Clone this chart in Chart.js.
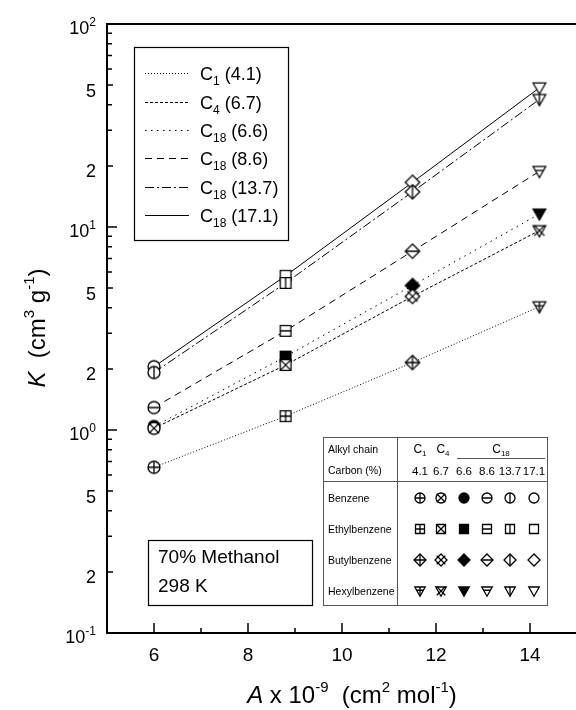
<!DOCTYPE html>
<html>
<head>
<meta charset="utf-8">
<script src="https://cdn.jsdelivr.net/npm/chart.js@4.4.1/dist/chart.umd.min.js"></script>
<style>
  html, body { margin: 0; padding: 0; background: #fff; overflow: hidden; }
  canvas { display: block; }
</style>
</head>
<body>
<canvas id="chart" width="600" height="710" style="width:600px;height:710px"></canvas>
<script>
// Molecular contact area of each solute (x 10^-9 cm^2/mol)
const A_VALUES = [6.0, 8.8, 11.5, 14.2];
const SOLUTES = ['Benzene', 'Ethylbenzene', 'Butylbenzene', 'Hexylbenzene'];

// Stationary phases: alkyl chain length and carbon loading (%)
const CHAINS = ['1', '4', '18', '18', '18', '18'];
const CARBON = ['4.1', '6.7', '6.6', '8.6', '13.7', '17.1'];

// Retention constant K (cm^3 g^-1) for benzene, ethyl-, butyl-, hexylbenzene
const K_C1_41   = [0.655, 1.17, 2.15, 4.05];
const K_C4_67   = [1.02, 2.09, 4.55, 9.6];
const K_C18_66  = [1.04, 2.30, 5.15, 11.6];
const K_C18_86  = [1.29, 3.08, 7.6, 18.8];
const K_C18_137 = [1.92, 5.3, 14.9, 42.5];
const K_C18_171 = [2.05, 5.75, 16.6, 48.5];
const K_SERIES = [K_C1_41, K_C4_67, K_C18_66, K_C18_86, K_C18_137, K_C18_171];

// Axis tick labels
const X_TICK_LABELS = [6, 8, 10, 12, 14];
const X_MINOR_TICKS = [7, 9, 11, 13];
const Y_DECADES = [0.1, 1, 10, 100];
const Y_DECADE_EXP = ['-1', '0', '1', '2'];
const Y_MID_LABELS = [2, 5];

// Drawing styles
const FONT = "'Liberation Sans', Arial, Helvetica, sans-serif";
const DASHES = [[1, 2], [3, 2], [1.5, 4.5], [7, 5], [9, 3, 2, 3], []];
const DECOS = ['plus', 'cross', 'fill', 'hline', 'vline', 'open'];
const SHAPES = ['circle', 'square', 'diamond', 'triangle'];

function shapePath(ctx, shape, cx, cy, r) {
  ctx.beginPath();
  if (shape === 'circle') {
    ctx.arc(cx, cy, r, 0, Math.PI * 2);
  } else if (shape === 'square') {
    const s = r * 0.9;
    ctx.rect(cx - s, cy - s, 2 * s, 2 * s);
  } else if (shape === 'diamond') {
    const d = r * 1.2;
    ctx.moveTo(cx, cy - d); ctx.lineTo(cx + d, cy); ctx.lineTo(cx, cy + d); ctx.lineTo(cx - d, cy);
    ctx.closePath();
  } else {
    ctx.moveTo(cx - r * 1.05, cy - r * 0.8);
    ctx.lineTo(cx + r * 1.05, cy - r * 0.8);
    ctx.lineTo(cx, cy + r * 1.05);
    ctx.closePath();
  }
}

function drawSymbol(ctx, shape, deco, cx, cy, r) {
  ctx.save();
  ctx.setLineDash([]);
  ctx.lineWidth = 1.3;
  ctx.strokeStyle = '#000';
  shapePath(ctx, shape, cx, cy, r);
  ctx.fillStyle = deco === 'fill' ? '#000' : '#fff';
  ctx.fill();
  ctx.stroke();
  const e = r * 1.3;
  if (deco === 'plus' || deco === 'hline' || deco === 'vline') {
    ctx.save();
    shapePath(ctx, shape, cx, cy, r);
    ctx.clip();
    ctx.beginPath();
    const my = shape === 'triangle' ? cy - r * 0.15 : cy;
    if (deco !== 'vline') { ctx.moveTo(cx - e, my); ctx.lineTo(cx + e, my); }
    if (deco !== 'hline') { ctx.moveTo(cx, cy - e); ctx.lineTo(cx, cy + e); }
    ctx.stroke();
    ctx.restore();
  } else if (deco === 'cross') {
    const c = r * 0.85;
    ctx.beginPath();
    ctx.moveTo(cx - c, cy - c); ctx.lineTo(cx + c, cy + c);
    ctx.moveTo(cx + c, cy - c); ctx.lineTo(cx - c, cy + c);
    ctx.stroke();
  }
  ctx.restore();
}

function symbolCanvas(shape, deco, r) {
  const c = document.createElement('canvas');
  c.width = 22; c.height = 22;
  drawSymbol(c.getContext('2d'), shape, deco, 11, 11, r);
  return c;
}

function richWidth(ctx, parts) {
  let w = 0;
  for (const p of parts) { ctx.font = p.font; w += ctx.measureText(p.t).width; }
  return w;
}
function drawRich(ctx, parts, x, y, align) {
  const w = richWidth(ctx, parts);
  let cx = align === 'right' ? x - w : (align === 'center' ? x - w / 2 : x);
  ctx.textAlign = 'left';
  ctx.textBaseline = 'alphabetic';
  for (const p of parts) {
    ctx.font = p.font;
    ctx.fillText(p.t, cx, y + (p.dy || 0));
    cx += ctx.measureText(p.t).width;
  }
}
const f = (size, style) => (style ? style + ' ' : '') + size + 'px ' + FONT;

const datasets = K_SERIES.map((k, i) => ({
  label: 'C' + CHAINS[i] + ' (' + CARBON[i] + ')',
  data: A_VALUES.map((a, j) => ({ x: a, y: k[j] })),
  showLine: true,
  borderColor: '#000',
  borderWidth: 1,
  borderDash: DASHES[i],
  pointStyle: SHAPES.map(s => symbolCanvas(s, DECOS[i], 6)),
  pointRadius: 7,
  pointHoverRadius: 7,
  tension: 0,
  fill: false
}));

const decorPlugin = {
  id: 'decor',
  afterDraw(chart) {
    const ctx = chart.ctx;
    const xs = chart.scales.x, ys = chart.scales.y;
    const L = chart.chartArea.left;
    const T = chart.chartArea.top, B = chart.chartArea.bottom;
    ctx.save();
    ctx.strokeStyle = '#000';
    ctx.fillStyle = '#000';
    ctx.setLineDash([]);

    // axis frame: left, bottom and top lines
    ctx.lineWidth = 2;
    ctx.beginPath();
    ctx.moveTo(L, T); ctx.lineTo(L, B);
    ctx.moveTo(L - 1, B); ctx.lineTo(chart.width, B);
    ctx.moveTo(L - 1, T); ctx.lineTo(chart.width, T);
    ctx.stroke();

    // inward tick marks
    ctx.lineWidth = 1.5;
    ctx.beginPath();
    for (const v of X_TICK_LABELS) { const px = xs.getPixelForValue(v); ctx.moveTo(px, B); ctx.lineTo(px, B - 10); }
    for (const v of X_MINOR_TICKS) { const px = xs.getPixelForValue(v); ctx.moveTo(px, B); ctx.lineTo(px, B - 5); }
    for (let d = 0; d < Y_DECADES.length; d++) {
      const base = Y_DECADES[d];
      const py = ys.getPixelForValue(base);
      ctx.moveTo(L, py); ctx.lineTo(L + 10, py);
      if (d < Y_DECADES.length - 1) {
        for (let m = 2; m <= 9; m++) {
          const pm = ys.getPixelForValue(base * m);
          ctx.moveTo(L, pm); ctx.lineTo(L + (m === 2 || m === 5 ? 6 : 5), pm);
        }
      }
    }
    ctx.stroke();

    // tick labels
    for (const v of X_TICK_LABELS) {
      ctx.font = f(19); ctx.textAlign = 'center'; ctx.textBaseline = 'alphabetic';
      ctx.fillText(String(v), xs.getPixelForValue(v), 661);
    }
    for (let d = 0; d < Y_DECADES.length; d++) {
      const py = ys.getPixelForValue(Y_DECADES[d]);
      drawRich(ctx, [{ t: '10', font: f(18) }, { t: Y_DECADE_EXP[d], font: f(12), dy: -8 }], 96, py + 10, 'right');
      if (d < Y_DECADES.length - 1) {
        for (const m of Y_MID_LABELS) {
          const pm = ys.getPixelForValue(Y_DECADES[d] * m);
          drawRich(ctx, [{ t: String(m), font: f(18) }], 96, pm + 11.5, 'right');
        }
      }
    }

    // axis titles
    drawRich(ctx, [
      { t: 'A', font: f(24, 'italic') }, { t: ' x 10', font: f(24) }, { t: '-9', font: f(15), dy: -11 },
      { t: '  (cm', font: f(24) }, { t: '2', font: f(15), dy: -11 }, { t: ' mol', font: f(24) },
      { t: '-1', font: f(15), dy: -11 }, { t: ')', font: f(24) }
    ], 352, 703, 'center');
    ctx.save();
    ctx.translate(45, 328);
    ctx.rotate(-Math.PI / 2);
    drawRich(ctx, [
      { t: 'K', font: f(24, 'italic') }, { t: '  (cm', font: f(24) }, { t: '3', font: f(15), dy: -11 },
      { t: ' g', font: f(24) }, { t: '-1', font: f(15), dy: -11 }, { t: ')', font: f(24) }
    ], 0, 0, 'center');
    ctx.restore();

    // line-style key
    ctx.lineWidth = 1.2;
    ctx.fillStyle = '#fff';
    ctx.fillRect(134, 47, 154, 193);
    ctx.strokeRect(134.5, 47.5, 154, 193);
    ctx.fillStyle = '#000';
    const rowsY = [73, 102, 130, 158, 187, 215];
    for (let i = 0; i < CHAINS.length; i++) {
      const y = rowsY[i];
      ctx.save();
      ctx.lineWidth = 1;
      ctx.setLineDash(DASHES[i]);
      ctx.beginPath(); ctx.moveTo(145, y + 0.5); ctx.lineTo(189, y + 0.5); ctx.stroke();
      ctx.restore();
      drawRich(ctx, [
        { t: 'C', font: f(18) }, { t: CHAINS[i], font: f(12), dy: 5 }, { t: ' (' + CARBON[i] + ')', font: f(18) }
      ], 200, y + 7, 'left');
    }

    // conditions box
    ctx.lineWidth = 1.2;
    ctx.fillStyle = '#fff';
    ctx.fillRect(148, 540, 164, 65);
    ctx.strokeRect(148.5, 540.5, 164, 65);
    ctx.fillStyle = '#000';
    drawRich(ctx, [{ t: '70% Methanol', font: f(19) }], 158, 563, 'left');
    drawRich(ctx, [{ t: '298 K', font: f(19) }], 158, 592, 'left');

    // symbol table
    const tL = 323, tR = 547, tT = 437, tB = 605, tDiv = 397, tH = 481;
    const colX = [420, 441, 464, 487, 510, 534];
    const rowY = [498, 529, 560, 591];
    ctx.lineWidth = 1;
    ctx.fillStyle = '#fff';
    ctx.fillRect(tL, tT, tR - tL, tB - tT);
    ctx.strokeStyle = '#555';
    ctx.strokeRect(tL + 0.5, tT + 0.5, tR - tL, tB - tT);
    ctx.beginPath();
    ctx.moveTo(tDiv + 0.5, tT); ctx.lineTo(tDiv + 0.5, tB);
    ctx.moveTo(tL, tH + 0.5); ctx.lineTo(tR, tH + 0.5);
    ctx.moveTo(457, 458.5); ctx.lineTo(545, 458.5);
    ctx.stroke();
    ctx.strokeStyle = '#000';
    ctx.fillStyle = '#000';
    drawRich(ctx, [{ t: 'Alkyl chain', font: f(10.5) }], 328, 453, 'left');
    drawRich(ctx, [{ t: 'Carbon (%)', font: f(10.5) }], 328, 474, 'left');
    drawRich(ctx, [{ t: 'C', font: f(12) }, { t: CHAINS[0], font: f(8), dy: 3 }], colX[0], 453, 'center');
    drawRich(ctx, [{ t: 'C', font: f(12) }, { t: CHAINS[1], font: f(8), dy: 3 }], colX[1] + 2, 453, 'center');
    drawRich(ctx, [{ t: 'C', font: f(12) }, { t: CHAINS[2], font: f(8), dy: 3 }], 501, 453, 'center');
    for (let c = 0; c < CARBON.length; c++) {
      drawRich(ctx, [{ t: CARBON[c], font: f(11.5) }], colX[c], 475, 'center');
    }
    for (let r = 0; r < SOLUTES.length; r++) {
      drawRich(ctx, [{ t: SOLUTES[r], font: f(10.5) }], 328, rowY[r] + 4, 'left');
      for (let c = 0; c < DECOS.length; c++) {
        drawSymbol(ctx, SHAPES[r], DECOS[c], colX[c], rowY[r], 5);
      }
    }
    ctx.restore();
  }
};

new Chart(document.getElementById('chart'), {
  type: 'scatter',
  data: { datasets },
  options: {
    responsive: false,
    animation: false,
    events: [],
    layout: { padding: { left: 107, top: 24, right: 23, bottom: 77 } },
    plugins: { legend: { display: false }, tooltip: { enabled: false } },
    scales: {
      x: {
        type: 'linear', min: 5, max: 15,
        grid: { display: false, drawTicks: false },
        border: { display: false },
        ticks: { display: false },
        afterFit(s) { s.height = 0; }
      },
      y: {
        type: 'logarithmic', min: 0.1, max: 100,
        grid: { display: false, drawTicks: false },
        border: { display: false },
        ticks: { display: false },
        afterFit(s) { s.width = 0; }
      }
    }
  },
  plugins: [decorPlugin]
});
</script>
</body>
</html>
